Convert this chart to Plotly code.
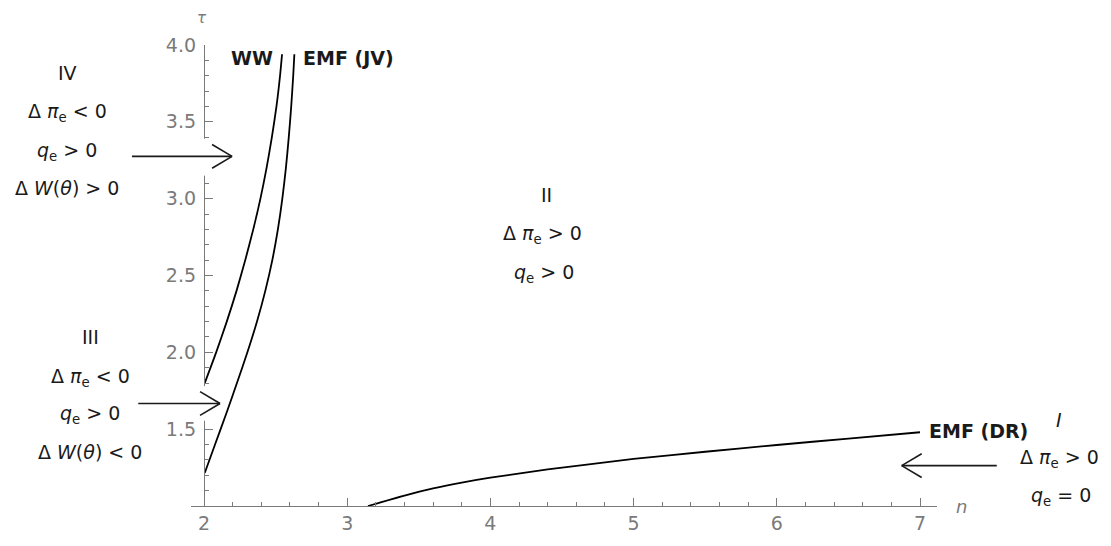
import plotly.graph_objects as go

# ---------------- data ----------------
ww_tau = [1.80, 2.0, 2.2, 2.4, 2.6, 2.8, 3.0, 3.2, 3.4, 3.6, 3.8, 3.94]
ww_n = [2.005, 2.085, 2.159, 2.227, 2.288, 2.344, 2.394, 2.437, 2.474, 2.506, 2.531, 2.545]

jv_tau = [1.215, 1.4, 1.6, 1.8, 2.0, 2.2, 2.4, 2.6, 2.8, 3.0, 3.2, 3.4, 3.6, 3.8, 3.94]
jv_n = [2.005, 2.077, 2.155, 2.230, 2.303, 2.370, 2.428, 2.477, 2.516, 2.547, 2.572,
        2.592, 2.609, 2.623, 2.631]

dr_n = [3.145, 3.4, 3.6, 3.8, 4.0, 4.4, 5.0, 5.5, 6.0, 6.5, 7.0]
dr_tau = [1.0, 1.068, 1.114, 1.152, 1.184, 1.238, 1.306, 1.353, 1.397, 1.439, 1.48]

x_ticks = [2, 3, 4, 5, 6, 7]
y_ticks = [1.5, 2.0, 2.5, 3.0, 3.5, 4.0]
y_ticktext = ["1.5", "2.0", "2.5", "3.0", "3.5", "4.0"]

# ---------------- layout geometry ----------------
# the page body adds an 8px offset, so the figure is 8px smaller
W, H = 1103, 538
ML, MR, MT, MB = 183, 174, 37, 36
XR = [1.9092, 7.1187]
YR = [1.0, 4.0]
PW = W - ML - MR
PH = H - MT - MB

GRAY = "#7a7a7a"
INK = "#1a1a1a"
FONT = "DejaVu Sans"
FS = 19


def dx(n):
    return (n - XR[0]) / (XR[1] - XR[0])


def dy(t):
    return (t - YR[0]) / (YR[1] - YR[0])


def px(p):
    return p / PW


def py(p):
    return p / PH


fig = go.Figure()
for xs, ys in [(ww_n, ww_tau), (jv_n, jv_tau), (dr_n, dr_tau)]:
    fig.add_trace(go.Scatter(x=xs, y=ys, mode="lines",
                             line=dict(color="black", width=1.8, shape="spline", smoothing=0.6),
                             hoverinfo="skip", showlegend=False))

shapes = []
# gaps in the vertical axis (label insets)
for t0, t1 in [(3.15, 3.39), (1.555, 1.78)]:
    shapes.append(dict(type="rect", xref="paper", yref="paper",
                       x0=dx(2.0) - px(10), x1=dx(2.0) + px(9), y0=dy(t0), y1=dy(t1),
                       fillcolor="white", line=dict(width=0), layer="above"))


def arrow(n_tail, n_head, tau):
    xt, xh, yy = dx(n_tail), dx(n_head), dy(tau)
    sgn = 1 if n_head > n_tail else -1
    res = [dict(type="line", xref="paper", yref="paper", x0=xt, x1=xh, y0=yy, y1=yy,
                line=dict(color=INK, width=1.6), layer="above")]
    for s in (1, -1):
        res.append(dict(type="line", xref="paper", yref="paper",
                        x0=xh - sgn * px(20), y0=yy + s * py(12), x1=xh, y1=yy,
                        line=dict(color=INK, width=1.6), layer="above"))
    return res


shapes += arrow(1.497, 2.196, 3.275)
shapes += arrow(1.541, 2.112, 1.667)
shapes += arrow(7.536, 6.872, 1.263)

ann = []


def text(n, tau, s, size=FS, bold=False, italic=False, color=INK, xanchor="center"):
    if bold:
        s = "<b>" + s + "</b>"
    if italic:
        s = "<i>" + s + "</i>"
    ann.append(dict(x=dx(n), y=dy(tau), xref="paper", yref="paper", text=s, showarrow=False,
                    xanchor=xanchor, yanchor="middle",
                    font=dict(family=FONT, size=size, color=color)))


dpi_lt = "Δ <i>π</i><sub>e</sub> &lt; 0"
dpi_gt = "Δ <i>π</i><sub>e</sub> &gt; 0"
qe_gt = "<i>q</i><sub>e</sub> &gt; 0"
qe_eq = "<i>q</i><sub>e</sub> = 0"
dw_gt = "Δ <i>W</i>(<i>θ</i>) &gt; 0"
dw_lt = "Δ <i>W</i>(<i>θ</i>) &lt; 0"


def n_of(p):
    return 2 + (p - 204) / 143.2


def t_of(p):
    return 4 - (p - 45) / 155


# Region IV
text(n_of(67), t_of(73), "IV")
text(n_of(67), t_of(113), dpi_lt)
text(n_of(67), t_of(152), qe_gt)
text(n_of(67), t_of(189), dw_gt)
# Region III
text(n_of(90), t_of(340), "III")
text(n_of(90), t_of(380), dpi_lt)
text(n_of(90), t_of(418), qe_gt)
text(n_of(90), t_of(456), dw_lt)
# Region II
text(n_of(546), t_of(196), "II")
text(n_of(542), t_of(236), dpi_gt)
text(n_of(544), t_of(275), qe_gt)
# Region I
text(n_of(1059), t_of(423), "I", italic=True)
text(n_of(1059), t_of(462), dpi_gt)
text(n_of(1061), t_of(500), qe_eq)
# curve labels
text(n_of(252), t_of(58), "WW", bold=True)
text(n_of(301), t_of(58), "EMF (JV)", bold=True, xanchor="left")
text(n_of(927), t_of(434), "EMF (DR)", bold=True, xanchor="left")
# axis titles
text(n_of(202), t_of(18), "τ", size=15, italic=True, color=GRAY)
text(n_of(961), t_of(510), "n", size=18, italic=True, color=GRAY)

fig.update_layout(
    width=W, height=H,
    margin=dict(l=ML, r=MR, t=MT, b=MB, pad=0),
    paper_bgcolor="white", plot_bgcolor="white",
    shapes=shapes, annotations=ann,
    xaxis=dict(range=XR, domain=[0, 1], showgrid=False, zeroline=False,
               showline=True, linecolor=GRAY, linewidth=1.3,
               tickmode="array", tickvals=x_ticks, ticktext=[str(v) for v in x_ticks],
               ticks="inside", ticklen=8, tickwidth=1.3, tickcolor=GRAY,
               tickfont=dict(family=FONT, size=FS, color=GRAY),
               minor=dict(tick0=2, dtick=0.2, ticks="inside", ticklen=4, tickwidth=1.1, tickcolor=GRAY)),
    yaxis=dict(range=YR, domain=[0, 1], anchor="free", position=dx(2.0),
               showgrid=False, zeroline=False,
               showline=True, linecolor=GRAY, linewidth=1.3,
               tickmode="array", tickvals=y_ticks, ticktext=y_ticktext,
               ticks="inside", ticklen=8, tickwidth=1.3, tickcolor=GRAY,
               ticklabelstandoff=4,
               tickfont=dict(family=FONT, size=FS, color=GRAY),
               minor=dict(tick0=1, dtick=0.1, ticks="inside", ticklen=4, tickwidth=1.1, tickcolor=GRAY)),
)

fig.write_html("out.html")
